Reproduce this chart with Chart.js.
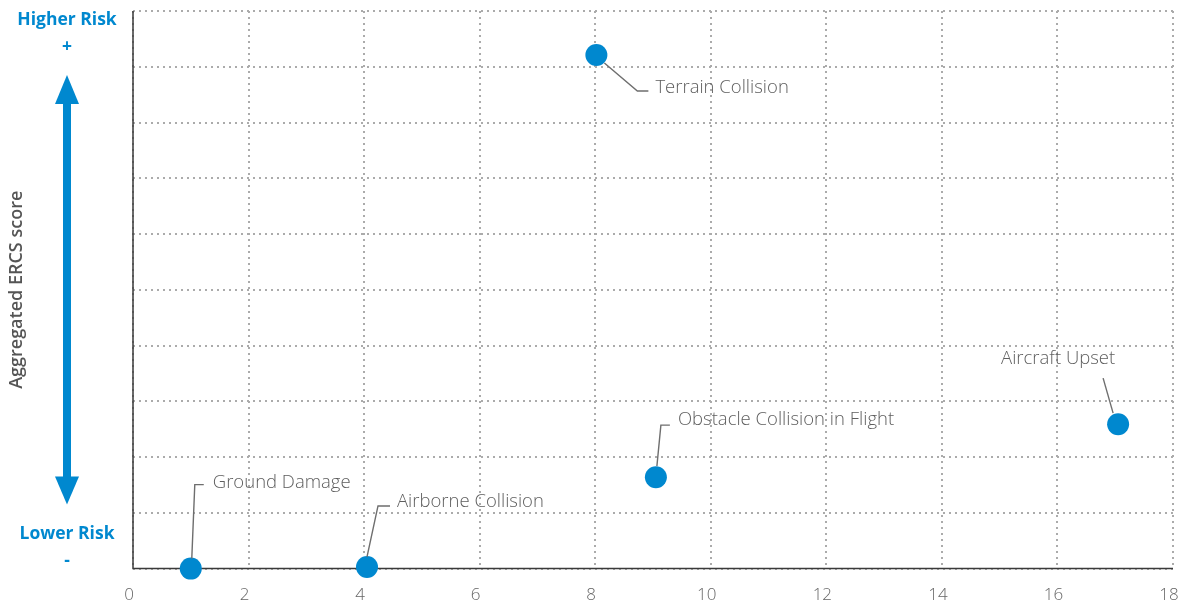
<!DOCTYPE html>
<html>
<head>
<meta charset="utf-8">
<script src="https://cdn.jsdelivr.net/npm/chart.js@4/dist/chart.umd.min.js"></script>
<style>
  html, body { margin: 0; padding: 0; background: #fff; overflow: hidden; }
  #wrap { width: 1193px; height: 607px; position: relative; }
</style>
</head>
<body>
<div id="wrap"><canvas id="c" width="1193" height="607"></canvas></div>
<script>
// ---- Data ----
const categories = ["Ground Damage", "Airborne Collision", "Terrain Collision", "Obstacle Collision in Flight", "Aircraft Upset"];
const xValues = [1.0, 4.05, 8.02, 9.05, 17.05];
const yValues = [0.0, 0.03, 9.21, 1.64, 2.59];
const xTicks = [0, 2, 4, 6, 8, 10, 12, 14, 16, 18];
const yTitle = "Aggregated ERCS score";
const topLabel = ["Higher Risk", "+"];
const bottomLabel = ["Lower Risk", "-"];

// ---- Label layout (pixel offsets from each point) ----
const labelLayout = [
  { line: [[1, -10], [4, -84], [13, -84]], text: [22, -86], align: "left" },
  { line: [[0, -10], [11, -61], [23, -61]], text: [30, -65], align: "left" },
  { line: [[8, 8], [41, 36], [52, 36]], text: [59, 33], align: "left" },
  { line: [[1, -11], [5, -52], [14, -52]], text: [22, -57], align: "left" },
  { line: [[-5, -11], [-15, -46]], text: [-60, -65], align: "center" }
];

const BLUE = "#0088cf";
const points = xValues.map((x, i) => ({ x: x, y: yValues[i], label: categories[i] }));

const annotatePlugin = {
  id: "annotate",
  beforeDatasetsDraw(chart) {
    const ctx = chart.ctx;
    const ca = chart.chartArea;
    ctx.save();
    ctx.strokeStyle = "#3a3a3a";
    ctx.lineWidth = 1.5;
    ctx.setLineDash([]);
    ctx.beginPath();
    ctx.moveTo(ca.left, ca.top);
    ctx.lineTo(ca.left, ca.bottom);
    ctx.lineTo(ca.right, ca.bottom);
    ctx.stroke();
    ctx.restore();
  },
  afterDatasetsDraw(chart) {
    const ctx = chart.ctx;
    const meta = chart.getDatasetMeta(0);
    ctx.save();
    meta.data.forEach((el, i) => {
      const L = labelLayout[i];
      const px = el.x, py = el.y;
      ctx.beginPath();
      ctx.strokeStyle = "#6e6e6e";
      ctx.lineWidth = 1.4;
      L.line.forEach((p, j) => {
        if (j === 0) ctx.moveTo(px + p[0], py + p[1]);
        else ctx.lineTo(px + p[0], py + p[1]);
      });
      ctx.stroke();
      ctx.fillStyle = "#5e5e5e";
      ctx.font = "300 18.5px 'Open Sans', 'Noto Sans', sans-serif";
      ctx.textAlign = L.align;
      ctx.textBaseline = "middle";
      ctx.fillText(categories[i], px + L.text[0], py + L.text[1]);
    });
    ctx.restore();
  },
  afterDraw(chart) {
    const ctx = chart.ctx;
    const ca = chart.chartArea;
    const cx = 67;
    ctx.save();
    // Risk labels
    ctx.fillStyle = BLUE;
    ctx.textAlign = "center";
    ctx.textBaseline = "middle";
    ctx.font = "bold 17.5px 'Open Sans', 'Noto Sans', sans-serif";
    ctx.fillText(topLabel[0], cx, ca.top + 9);
    ctx.fillText(topLabel[1], cx, ca.top + 36);
    ctx.fillText(bottomLabel[0], cx, ca.bottom - 35);
    ctx.fillText(bottomLabel[1], cx, ca.bottom - 8);
    // Arrow
    const topTip = ca.top + 64, topBase = ca.top + 93;
    const botBase = ca.bottom - 92, botTip = ca.bottom - 64;
    ctx.fillStyle = BLUE;
    ctx.fillRect(cx - 4, topBase - 1, 8, botBase - topBase + 2);
    ctx.beginPath();
    ctx.moveTo(cx, topTip); ctx.lineTo(cx + 12, topBase); ctx.lineTo(cx - 12, topBase); ctx.closePath(); ctx.fill();
    ctx.beginPath();
    ctx.moveTo(cx, botTip); ctx.lineTo(cx + 12, botBase); ctx.lineTo(cx - 12, botBase); ctx.closePath(); ctx.fill();
    // Y title
    ctx.translate(17, (ca.top + ca.bottom) / 2);
    ctx.rotate(-Math.PI / 2);
    ctx.fillStyle = "#555";
    ctx.font = "600 18px 'Open Sans', 'Noto Sans', sans-serif";
    ctx.fillText(yTitle, 0, 0);
    ctx.restore();
  }
};

new Chart(document.getElementById("c"), {
  type: "scatter",
  data: {
    datasets: [{
      data: points,
      backgroundColor: BLUE,
      borderWidth: 0,
      pointRadius: 11,
      pointHoverRadius: 11,
      clip: false
    }]
  },
  options: {
    responsive: false,
    animation: false,
    events: [],
    layout: { padding: { left: 133, top: 10, right: 20, bottom: -14 } },
    plugins: { legend: { display: false }, tooltip: { enabled: false } },
    scales: {
      x: {
        type: "linear",
        min: xTicks[0],
        max: xTicks[xTicks.length - 1],
        afterBuildTicks: (axis) => { axis.ticks = xTicks.map(v => ({ value: v })); },
        afterFit: (scale) => { scale.paddingRight = 0; scale.paddingLeft = 0; },
        ticks: {
          color: "#666",
          font: { family: "'Open Sans', 'Noto Sans', sans-serif", size: 17, weight: "300" },
          padding: 16,
          labelOffset: -4,
          maxRotation: 0
        },
        grid: { color: "#ababab", lineWidth: 2, drawTicks: false },
        border: { display: false, dash: [2, 4] }
      },
      y: {
        type: "linear",
        min: 0,
        max: 10,
        ticks: { display: false, stepSize: 1 },
        grid: { color: "#ababab", lineWidth: 2, drawTicks: false },
        border: { display: false, dash: [2, 4] }
      }
    }
  },
  plugins: [annotatePlugin]
});
</script>
</body>
</html>
